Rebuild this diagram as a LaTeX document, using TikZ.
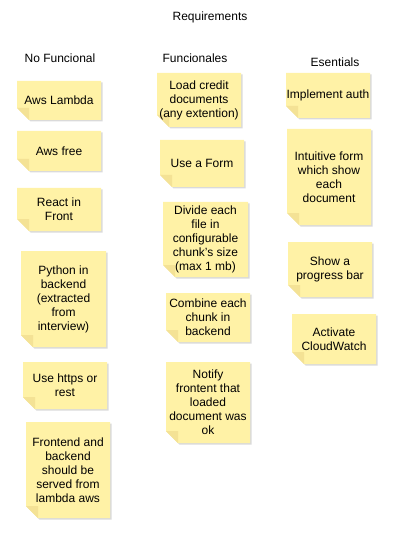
\documentclass[tikz,border=0pt]{standalone}
\usepackage{fontspec}
\setmainfont{Liberation Sans}
\usepackage{tikz}

\definecolor{noteyellow}{HTML}{FFF2A6}
\definecolor{notefoldc}{HTML}{F4E295}
\definecolor{noteshadow}{HTML}{DADADA}
\newcommand{\notefont}{\fontsize{9}{10.5}\selectfont}

\tikzset{
  notetext/.style={align=center, inner sep=0.75pt, font=\notefont},
  headtext/.style={inner sep=0.75pt, font=\notefont},
}

% name, x0, y0, x1, y1, text
\newcommand{\stickynote}[6]{%
  \fill[noteshadow] (#2+1.5,#3+1.5) -- (#4+1.5,#3+1.5) -- (#4+1.5,#5+1.5) -- (#2+13.5,#5+1.5) -- (#2+1.5,#5-10.5) -- cycle ;
  \fill[noteyellow] (#2,#3) -- (#4,#3) -- (#4,#5) -- (#2+12,#5) -- (#2,#5-12) -- cycle ;
  \fill[notefoldc] (#2,#5-12) -- (#2+12,#5-12) -- (#2+12,#5) -- cycle ;
  \node[notetext] (#1) at ({(#2+#4)/2},{(#3+#5)/2}) {#6};
}

\begin{document}
\begin{tikzpicture}[x=0.75pt,y=0.75pt,yscale=-1,xscale=1]
        \useasboundingbox (0,0) rectangle (410,538);

        \node[headtext] (title) at (210,17) {Requirements};
        \node[headtext] (nofunc) at (60,58) {No Funcional};
        \node[headtext] (func) at (195,58) {Funcionales};
        \node[headtext] (essent) at (335,62) {Esentials};

        \stickynote{lambda}{17}{81}{101}{120}{Aws Lambda}
        \stickynote{free}{17}{131}{101}{171}{Aws free}
        \stickynote{react}{17}{188}{101}{231}{React in\\Front}
        \stickynote{python}{21}{251}{106}{347}{Python in\\backend\\(extracted\\from\\interview)}
        \stickynote{https}{23}{362}{107}{409}{Use https or\\rest}
        \stickynote{served}{26}{422}{110}{518}{Frontend and\\backend\\should be\\served from\\lambda aws}

        \stickynote{load}{157}{73}{241}{127}{Load credit\\documents\\(any extention)}
        \stickynote{form}{160}{140}{244}{187}{Use a Form}
        \stickynote{divide}{163}{202}{248}{277}{Divide each\\file in\\configurable\\chunk's size\\(max 1 mb)}
        \stickynote{combine}{166}{293}{250}{342}{Combine each\\chunk in\\backend}
        \stickynote{notify}{166}{362}{250}{443}{Notify\\frontent that\\loaded\\document was\\ok}

        \stickynote{auth}{286}{73}{370}{118}{Implement auth}
        \stickynote{intuitive}{287}{129}{371}{225}{Intuitive form\\which show\\each\\document}
        \stickynote{progress}{288}{242}{372}{297}{Show a\\progress bar}
        \stickynote{cloudwatch}{292}{314}{376}{364}{Activate\\CloudWatch}
\end{tikzpicture}
\end{document}
